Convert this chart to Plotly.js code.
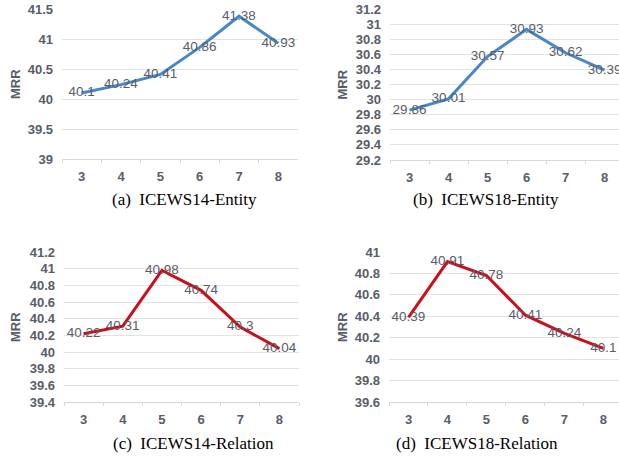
<!DOCTYPE html>
<html>
<head>
<meta charset="utf-8">
<script src="https://cdn.plot.ly/plotly-3.0.1.min.js"></script>
<style>html,body{margin:0;padding:0;background:#fff;}#chart{width:619px;height:457px;}</style>
</head>
<body>
<div id="chart"></div>
<script>
const categories = ['3', '4', '5', '6', '7', '8'];
const icews14Entity = [40.1, 40.24, 40.41, 40.86, 41.38, 40.93];
const icews18Entity = [29.86, 30.01, 30.57, 30.93, 30.62, 30.39];
const icews14Relation = [40.22, 40.31, 40.98, 40.74, 40.3, 40.04];
const icews18Relation = [40.39, 40.91, 40.78, 40.41, 40.24, 40.1];
const captions = ['(a)  ICEWS14-Entity', '(b)  ICEWS18-Entity', '(c)  ICEWS14-Relation', '(d)  ICEWS18-Relation'];
const yTitle = 'MRR';

const W = 619, H = 457;
const BLUE = '#4787c8', RED = '#c8101a', TXT = '#575d69';

function px(x) { return x / W; }
function py(y) { return 1 - y / H; }

const panels = [
  {vals: icews14Entity, color: BLUE, x0: 62, x1: 298, y0: 9, y1: 159, yr: [39, 41.5], dt: 0.5, xr: [-0.5, 5.5], ytx: 15, cap: [184, 199]},
  {vals: icews18Entity, color: BLUE, x0: 390, x1: 619, y0: 9, y1: 160, yr: [29.2, 31.2], dt: 0.2, xr: [-0.5, 5.37], ytx: 342, cap: [486, 199]},
  {vals: icews14Relation, color: RED, x0: 64, x1: 299, y0: 252, y1: 402, yr: [39.4, 41.2], dt: 0.2, xr: [-0.5, 5.5], ytx: 15, cap: [193, 443]},
  {vals: icews18Relation, color: RED, x0: 389, x1: 619, y0: 252, y1: 402, yr: [39.6, 41.0], dt: 0.2, xr: [-0.5, 5.4], ytx: 342, cap: [477, 443]}
];

const data = [];
const layout = {
  width: W, height: H,
  margin: {l: 0, r: 0, t: 0, b: 0},
  paper_bgcolor: '#ffffff', plot_bgcolor: '#ffffff',
  showlegend: false,
  font: {family: 'Liberation Sans, Arial, sans-serif', color: TXT},
  annotations: []
};

panels.forEach((p, i) => {
  const n = i === 0 ? '' : String(i + 1);
  data.push({
    x: categories, y: p.vals,
    xaxis: 'x' + n, yaxis: 'y' + n,
    type: 'scatter', mode: 'lines+text',
    line: {color: p.color, width: 3},
    text: p.vals.map(v => String(v)),
    textposition: 'middle center',
    textfont: {family: 'Liberation Sans, Arial, sans-serif', size: 13.5, color: TXT},
    cliponaxis: false,
    hoverinfo: 'skip'
  });
  layout['xaxis' + n] = {
    domain: [px(p.x0), px(p.x1)],
    anchor: 'y' + n,
    type: 'category',
    range: p.xr,
    showgrid: false, zeroline: false,
    showline: true, linecolor: '#d9d9d9', linewidth: 1,
    ticks: 'outside', tickson: 'boundaries', ticklen: 3, tickcolor: '#d9d9d9',
    ticklabelstandoff: 5,
    tickfont: {family: 'Liberation Sans, Arial, sans-serif', size: 13, color: TXT, weight: 'bold'},
    fixedrange: true
  };
  layout['yaxis' + n] = {
    domain: [py(p.y1), py(p.y0)],
    anchor: 'x' + n,
    range: p.yr,
    dtick: p.dt,
    tick0: p.yr[0],
    showgrid: true, gridcolor: '#e3e3e3', gridwidth: 1,
    zeroline: false, showline: false,
    ticks: '', ticklabelstandoff: 8,
    tickfont: {family: 'Liberation Sans, Arial, sans-serif', size: 13, color: TXT, weight: 'bold'},
    fixedrange: true
  };
  layout.annotations.push({
    text: yTitle, xref: 'paper', yref: 'paper',
    x: px(p.ytx), y: py((p.y0 + p.y1) / 2),
    xanchor: 'center', yanchor: 'middle', textangle: -90, showarrow: false,
    font: {family: 'Liberation Sans, Arial, sans-serif', size: 13, color: TXT, weight: 'bold'}
  });
  layout.annotations.push({
    text: captions[i], xref: 'paper', yref: 'paper',
    x: px(p.cap[0]), y: py(p.cap[1]),
    xanchor: 'center', yanchor: 'middle', showarrow: false,
    font: {family: 'Liberation Serif, Times New Roman, serif', size: 17, color: '#000000'}
  });
});

Plotly.newPlot('chart', data, layout, {displayModeBar: false, staticPlot: true});
</script>
</body>
</html>
